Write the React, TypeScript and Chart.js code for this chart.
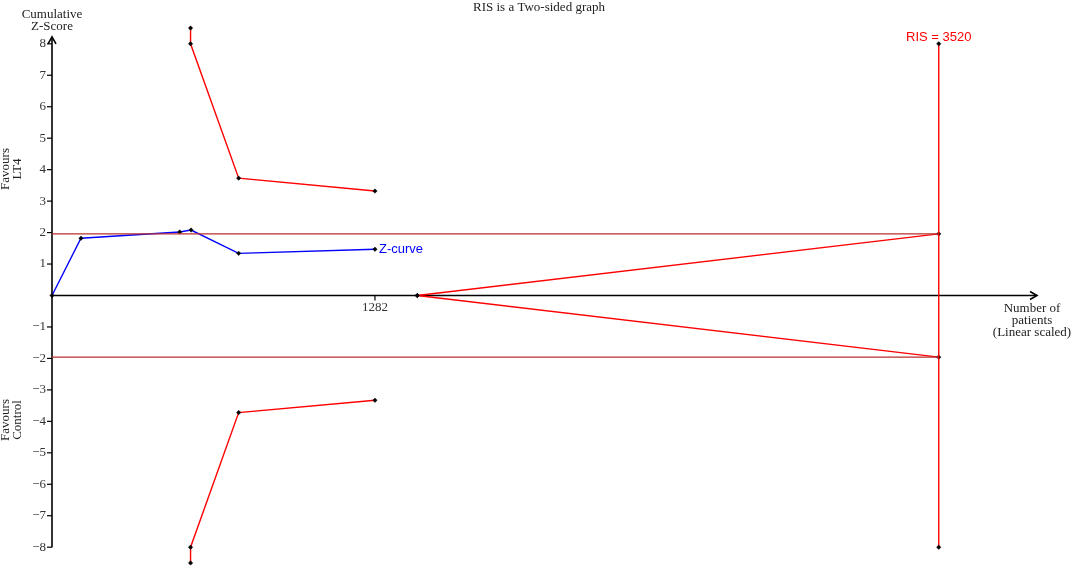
import React, { useEffect, useRef } from "react";
import { Chart, registerables } from "chart.js";

Chart.register(...registerables);

// ---- Data ----
const zPatients = [0, 115, 507, 552, 741, 1282];
const zScores = [0, 1.82, 2.02, 2.08, 1.34, 1.47];

const boundPatients = [550, 550, 741, 1282];
const upperBoundary = [8.5, 8.0, 3.73, 3.32];
const lowerBoundary = [-8.5, -8.0, -3.72, -3.33];

const futilityPatients = [1450, 3520];
const futilityUpper = [0, 1.96];
const futilityLower = [0, -1.96];

const conventionalPatients = [0, 3520];
const conventionalUpper = [1.96, 1.96];
const conventionalLower = [-1.96, -1.96];

const risPatients = [3520, 3520];
const risZ = [8, -8];

const yTickValues = [8, 7, 6, 5, 4, 3, 2, 1, -1, -2, -3, -4, -5, -6, -7, -8];
const yTickLabels = ["8", "7", "6", "5", "4", "3", "2", "1", "\u22121", "\u22122", "\u22123", "\u22124", "\u22125", "\u22126", "\u22127", "\u22128"];
const xTickValues = [1282];
const xTickLabels = ["1282"];

const X_MIN = 0;
const X_MAX = 3910;
const Y_MIN = -8.55;
const Y_MAX = 8.55;
const Y_AXIS_MIN = -8;
const Y_AXIS_MAX = 8;

const zip = (xs: number[], ys: number[]) => xs.map((x, i) => ({ x, y: ys[i] }));

const SERIF = "'Liberation Serif', 'Times New Roman', serif";
const SANS = "'Liberation Sans', Arial, sans-serif";

const overlayPlugin = {
  id: "overlay",
  beforeDatasetsDraw(chart: any) {
    const ctx = chart.ctx as CanvasRenderingContext2D;
    const xs = chart.scales.x;
    const ys = chart.scales.y;
    const area = chart.chartArea;
    const x0 = xs.getPixelForValue(0);
    const y0 = ys.getPixelForValue(0);
    const yTop = ys.getPixelForValue(Y_AXIS_MAX) - 7;
    const yBot = ys.getPixelForValue(Y_AXIS_MIN);
    ctx.save();
    ctx.strokeStyle = "#000";
    ctx.lineWidth = 1.6;
    // y axis
    ctx.beginPath();
    ctx.moveTo(x0, yBot);
    ctx.lineTo(x0, yTop);
    ctx.stroke();
    ctx.beginPath();
    ctx.moveTo(x0 - 4, yTop + 7);
    ctx.lineTo(x0, yTop);
    ctx.lineTo(x0 + 4, yTop + 7);
    ctx.stroke();
    // x axis
    const xEnd = area.right;
    ctx.beginPath();
    ctx.moveTo(x0, y0);
    ctx.lineTo(xEnd, y0);
    ctx.stroke();
    ctx.beginPath();
    ctx.moveTo(xEnd - 7, y0 - 4);
    ctx.lineTo(xEnd, y0);
    ctx.lineTo(xEnd - 7, y0 + 4);
    ctx.stroke();
    // y ticks
    ctx.lineWidth = 1.2;
    ctx.fillStyle = "#333";
    ctx.font = "13px " + SERIF;
    ctx.textAlign = "right";
    ctx.textBaseline = "middle";
    yTickValues.forEach((v, i) => {
      const py = ys.getPixelForValue(v);
      ctx.beginPath();
      ctx.moveTo(x0 - 5, py);
      ctx.lineTo(x0, py);
      ctx.stroke();
      ctx.fillText(yTickLabels[i], x0 - 6, py);
    });
    // x ticks
    ctx.textAlign = "center";
    ctx.textBaseline = "top";
    xTickValues.forEach((v, i) => {
      const px = xs.getPixelForValue(v);
      ctx.beginPath();
      ctx.moveTo(px, y0);
      ctx.lineTo(px, y0 + 5);
      ctx.stroke();
      ctx.fillText(xTickLabels[i], px, y0 + 6);
    });
    ctx.restore();
  },
  afterDatasetsDraw(chart: any) {
    const ctx = chart.ctx as CanvasRenderingContext2D;
    const xs = chart.scales.x;
    const ys = chart.scales.y;
    const area = chart.chartArea;
    const x0 = xs.getPixelForValue(0);
    ctx.save();
    ctx.fillStyle = "#222";
    ctx.font = "13px " + SERIF;
    ctx.textAlign = "center";
    ctx.textBaseline = "middle";
    // title
    ctx.fillText("RIS is a Two-sided graph", 539, 8);
    // y-axis title
    ctx.fillText("Cumulative", x0, 15);
    ctx.fillText("Z-Score", x0, 27);
    // x-axis title
    const xt = area.right - 5;
    ctx.fillText("Number of", xt, 309);
    ctx.fillText("patients", xt, 321);
    ctx.fillText("(Linear scaled)", xt, 333);
    // side labels
    const drawRot = (l1: string, l2: string, cy: number) => {
      ctx.save();
      ctx.translate(12, cy);
      ctx.rotate(-Math.PI / 2);
      ctx.fillText(l1, 0, -6);
      ctx.fillText(l2, 0, 6);
      ctx.restore();
    };
    drawRot("Favours", "LT4", 169);
    drawRot("Favours", "Control", 420);
    // Z-curve label
    const last = zPatients.length - 1;
    ctx.font = "13px " + SANS;
    ctx.fillStyle = "#0000ff";
    ctx.textAlign = "left";
    ctx.fillText("Z-curve", xs.getPixelForValue(zPatients[last]) + 4, ys.getPixelForValue(zScores[last]));
    // RIS label
    ctx.fillStyle = "#ff0000";
    ctx.textAlign = "center";
    ctx.fillText("RIS = " + risPatients[0], xs.getPixelForValue(risPatients[0]), 37);
    ctx.restore();
  },
};

const pointOpts = {
  pointRadius: 2.2,
  pointStyle: "rectRot",
  pointBackgroundColor: "#000",
  pointBorderColor: "#000",
  pointBorderWidth: 0.5,
};

export default function App() {
  const ref = useRef<HTMLCanvasElement | null>(null);
  useEffect(() => {
    document.body.style.margin = "0";
    const canvas = ref.current;
    if (!canvas) return;
    const chart = new Chart(canvas, {
      type: "scatter",
      data: {
        datasets: [
          {
            label: "Conventional upper",
            data: zip(conventionalPatients, conventionalUpper),
            showLine: true,
            borderColor: "#b8312f",
            borderWidth: 1.4,
            pointRadius: 0,
            clip: false,
          } as any,
          {
            label: "Conventional lower",
            data: zip(conventionalPatients, conventionalLower),
            showLine: true,
            borderColor: "#b8312f",
            borderWidth: 1.4,
            pointRadius: 0,
            clip: false,
          },
          {
            label: "RIS",
            data: zip(risPatients, risZ),
            showLine: true,
            borderColor: "#ff0000",
            borderWidth: 1.4,
            ...pointOpts,
            clip: false,
          },
          {
            label: "Futility upper",
            data: zip(futilityPatients, futilityUpper),
            showLine: true,
            borderColor: "#ff0000",
            borderWidth: 1.4,
            ...pointOpts,
            clip: false,
          },
          {
            label: "Futility lower",
            data: zip(futilityPatients, futilityLower),
            showLine: true,
            borderColor: "#ff0000",
            borderWidth: 1.4,
            ...pointOpts,
            clip: false,
          },
          {
            label: "Upper boundary",
            data: zip(boundPatients, upperBoundary),
            showLine: true,
            borderColor: "#ff0000",
            borderWidth: 1.4,
            ...pointOpts,
            clip: false,
          },
          {
            label: "Lower boundary",
            data: zip(boundPatients, lowerBoundary),
            showLine: true,
            borderColor: "#ff0000",
            borderWidth: 1.4,
            ...pointOpts,
            clip: false,
          },
          {
            label: "Z-curve",
            data: zip(zPatients, zScores),
            showLine: true,
            borderColor: "#0000ff",
            borderWidth: 1.4,
            ...pointOpts,
            clip: false,
          },
        ] as any,
      },
      options: {
        animation: false,
        responsive: false,
        devicePixelRatio: 1,
        layout: { autoPadding: false, padding: { left: 52, right: 35, top: 26.5, bottom: 1.5 } },
        plugins: {
          legend: { display: false },
          tooltip: { enabled: false },
          title: { display: false },
        },
        scales: {
          x: { type: "linear", min: X_MIN, max: X_MAX, display: false },
          y: { type: "linear", min: Y_MIN, max: Y_MAX, display: false },
        },
      },
      plugins: [overlayPlugin],
    } as any);
    return () => chart.destroy();
  }, []);
  return (
    <div style={{ width: 1072, height: 566, background: "#fff" }}>
      <canvas ref={ref} width={1072} height={566} />
    </div>
  );
}
